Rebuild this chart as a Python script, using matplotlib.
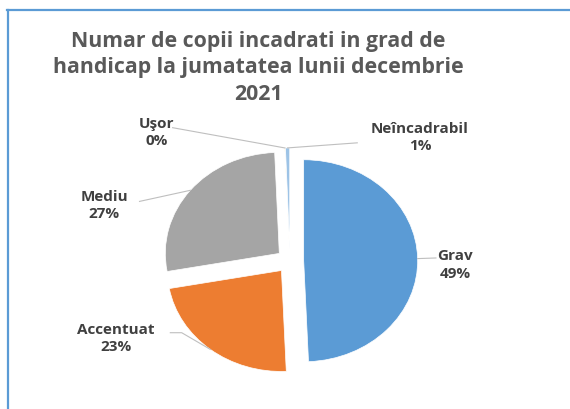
import numpy as np
import matplotlib
matplotlib.use('Agg')
from matplotlib import pyplot as plt
from matplotlib.lines import Line2D

# data (shares, clockwise from 12 o'clock)
categories = ['Grav', 'Accentuat', 'Mediu', 'Uşor', 'Neîncadrabil']
values = [49.3, 22.8, 27.2, 0.05, 0.6]
colors = ['#5B9BD5', '#ED7D31', '#A5A5A5', '#FFC000', '#9DC3E6']
title = 'Numar de copii incadrati in grad de\nhandicap la jumatatea lunii decembrie\n2021'

# label placement (data coords) and where the leader line leaves the label
label_pos = [(1.45, -0.04), (-1.53, -0.77), (-1.63, 0.55), (-1.17, 1.27), (1.14, 1.22)]
line_start = [[(1.28, 0.03)], [(-1.05, -0.71), (-0.95, -0.71)], [(-1.32, 0.59)],
              [(-1.03, 1.32)], [(0.59, 1.17)]]
explode = 0.12

plt.rcParams['font.family'] = ['Open Sans', 'DejaVu Sans']

fig = plt.figure(figsize=(5.7, 4.09), dpi=100)
ax = fig.add_axes([0, 0, 1, 1])
wedges, _ = ax.pie(values, colors=colors, startangle=90, counterclock=False,
                   explode=[explode] * len(values), radius=1,
                   wedgeprops=dict(edgecolor='white', linewidth=0.5))
ax.set_aspect('auto')
# pixel centre (290, 261), radius ~114 px wide x 101 px tall
ax.set_xlim(-290 / 114, (570 - 290) / 114)
ax.set_ylim((261 - 409) / 101, 261 / 101)
ax.axis('off')

total = sum(values)
for w, name, v, pos, start in zip(wedges, categories, values, label_pos, line_start):
    mid = np.deg2rad((w.theta1 + w.theta2) / 2)
    cx, cy = w.center
    end = (cx + np.cos(mid), cy + np.sin(mid))
    pts = start + [end]
    ax.plot([p[0] for p in pts], [p[1] for p in pts], color='#BFBFBF', lw=0.8)
    ax.text(pos[0], pos[1], '{}\n{:.0f}%'.format(name, round(v / total * 100)),
            ha='center', va='center', fontsize=11, fontweight='bold',
            color='#404040', linespacing=1.3)

fig.text(258 / 570, 1 - 68 / 409, title, ha='center', va='center',
         fontsize=15.3, fontweight='bold', color='#595959', linespacing=1.36)

# chart frame (cropped: only top and left edges visible)
fig.add_artist(Line2D([7 / 570, 1], [1 - 10 / 409, 1 - 10 / 409],
                      color='#5B9BD5', lw=1.6, transform=fig.transFigure))
fig.add_artist(Line2D([7.5 / 570, 7.5 / 570], [0, 1 - 10 / 409],
                      color='#5B9BD5', lw=1.6, transform=fig.transFigure))

fig.savefig('out.png', dpi=100)
